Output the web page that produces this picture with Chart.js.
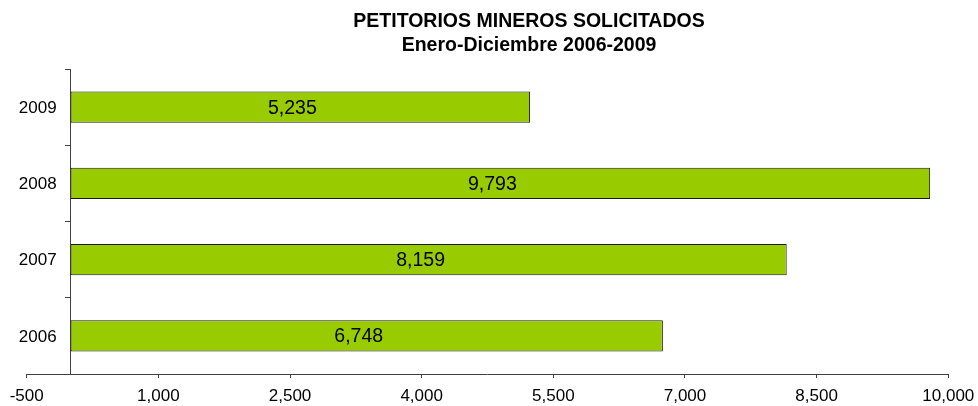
<!DOCTYPE html>
<html>
<head>
<meta charset="utf-8">
<script src="https://cdn.jsdelivr.net/npm/chart.js@4"></script>
<style>
  html, body { margin: 0; padding: 0; background: #fff; }
  #wrap { width: 978px; height: 406px; }
</style>
</head>
<body>
<div id="wrap"><canvas id="petitorios" width="978" height="406"></canvas></div>
<script>
const years = ['2006', '2007', '2008', '2009'];
const petitorios = [6748, 8159, 9793, 5235];
const titleLines = ['PETITORIOS MINEROS SOLICITADOS', 'Enero-Diciembre 2006-2009'];

const FONT = "Arial, 'Liberation Sans', sans-serif";
Chart.defaults.font.family = FONT;
Chart.defaults.color = '#000';

// value labels inside the bars + year labels left of the axis
const barLabels = {
  id: 'barLabels',
  afterDatasetsDraw(chart) {
    const ctx = chart.ctx;
    const meta = chart.getDatasetMeta(0);
    const axisX = chart.scales.x.getPixelForValue(0);
    ctx.save();
    ctx.fillStyle = '#000';
    ctx.textBaseline = 'middle';
    meta.data.forEach((bar, i) => {
      ctx.font = '19.5px ' + FONT;
      ctx.textAlign = 'center';
      ctx.fillText(petitorios[i].toLocaleString('en-US'), (bar.x + bar.base) / 2 - 8, bar.y + 1);
      ctx.font = '17px ' + FONT;
      ctx.textAlign = 'right';
      ctx.fillText(years[i], axisX - 14, bar.y + 1);
    });
    ctx.restore();
  }
};

// title sits right of the canvas centre, like the original
const topTitle = {
  id: 'topTitle',
  afterDraw(chart) {
    const ctx = chart.ctx;
    ctx.save();
    ctx.font = 'bold 19.5px ' + FONT;
    ctx.fillStyle = '#000';
    ctx.textAlign = 'center';
    ctx.textBaseline = 'middle';
    ctx.fillText(titleLines[0], 529, 22);
    ctx.fillText(titleLines[1], 529, 46);
    ctx.restore();
  }
};

new Chart(document.getElementById('petitorios'), {
  type: 'bar',
  data: {
    labels: years,
    datasets: [{
      data: petitorios,
      backgroundColor: '#99cc00',
      borderColor: '#1a1a1a',
      borderWidth: 1,
      borderSkipped: false,
      barPercentage: 0.41,
      categoryPercentage: 1
    }]
  },
  options: {
    indexAxis: 'y',
    responsive: false,
    animation: false,
    layout: {
      padding: { top: 69, left: 26.7, right: 29.7, bottom: 0 }
    },
    plugins: {
      legend: { display: false },
      title: { display: false },
      tooltip: { enabled: false }
    },
    scales: {
      x: {
        min: -500,
        max: 10000,
        afterFit(scale) {
          scale.height = 32;
          scale.paddingLeft = 0;
          scale.paddingRight = 0;
        },
        ticks: {
          stepSize: 1500,
          font: { size: 17 },
          padding: 8,
          maxRotation: 0
        },
        grid: { drawOnChartArea: false, tickLength: 4, color: '#404040' },
        border: { color: '#404040', width: 1 }
      },
      y: {
        position: { x: 0 },
        reverse: true,
        ticks: { display: false },
        grid: { drawOnChartArea: false, tickLength: 5, offset: true, color: '#404040' },
        border: { color: '#404040', width: 1 }
      }
    }
  },
  plugins: [barLabels, topTitle]
});
</script>
</body>
</html>
